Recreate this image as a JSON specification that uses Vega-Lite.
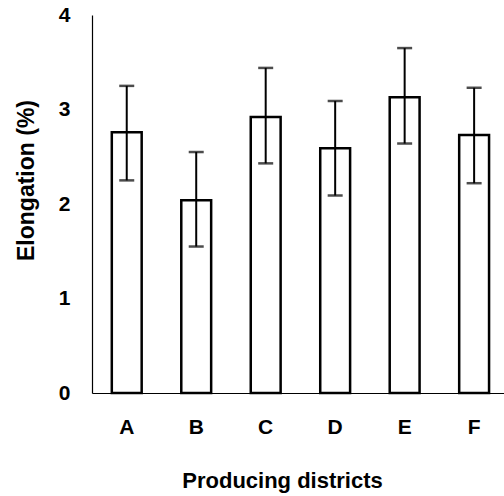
{
  "$schema": "https://vega.github.io/schema/vega-lite/v6.json",
  "width": 412,
  "height": 378,
  "autosize": {"type": "none"},
  "padding": {"left": 92, "top": 15, "right": 0, "bottom": 103},
  "background": "white",
  "config": {
    "view": {"stroke": null},
    "font": "Liberation Sans",
    "axis": {"grid": false, "domainColor": "black", "domainWidth": 1.2, "labelColor": "black", "titleColor": "black", "labelFont": "Liberation Sans", "titleFont": "Liberation Sans", "labelFontWeight": "bold", "titleFontWeight": "bold", "ticks": false},
    "axisX": {"labelAngle": 0, "labelFontSize": 21, "labelPadding": 23, "titleFontSize": 22, "titleX": 190, "titleY": 94, "titleBaseline": "alphabetic", "titleAnchor": null, "titleAlign": "center"}
  },
  "data": {
    "values": [
      {"district": "A", "elongation": 2.76, "lo": 2.25, "hi": 3.25},
      {"district": "B", "elongation": 2.04, "lo": 1.55, "hi": 2.55},
      {"district": "C", "elongation": 2.92, "lo": 2.43, "hi": 3.44},
      {"district": "D", "elongation": 2.59, "lo": 2.09, "hi": 3.09},
      {"district": "E", "elongation": 3.13, "lo": 2.64, "hi": 3.65},
      {"district": "F", "elongation": 2.73, "lo": 2.22, "hi": 3.23}
    ]
  },
  "encoding": {
    "x": {
      "field": "district", "type": "nominal",
      "scale": {"paddingInner": 0.57, "paddingOuter": 0.25, "align": 0.57},
      "axis": {"title": "Producing districts"}
    }
  },
  "layer": [
    {
      "mark": {"type": "bar", "fill": "white", "stroke": "black", "strokeWidth": 2.5},
      "encoding": {
        "y": {
          "field": "elongation", "type": "quantitative",
          "scale": {"domain": [0, 4], "nice": false},
          "axis": {"title": "Elongation (%)", "values": [0, 1, 2, 3, 4], "format": "d", "labelFontSize": 21, "labelPadding": 22, "titleFontSize": 23, "titleX": -59, "titleY": 165, "titleBaseline": "alphabetic", "titleAngle": -90, "titleAlign": "center"}
        }
      }
    },
    {
      "mark": {"type": "rule", "stroke": "black", "strokeWidth": 2},
      "encoding": {
        "y": {"field": "lo", "type": "quantitative", "axis": {"title": "Elongation (%)", "values": [0, 1, 2, 3, 4], "format": "d", "labelFontSize": 21, "labelPadding": 22, "titleFontSize": 23, "titleX": -59, "titleY": 165, "titleBaseline": "alphabetic", "titleAngle": -90, "titleAlign": "center"}},
        "y2": {"field": "hi"}
      }
    },
    {
      "mark": {"type": "tick", "color": "black", "size": 15, "thickness": 2.5},
      "encoding": {"y": {"field": "lo", "type": "quantitative", "axis": {"title": "Elongation (%)", "values": [0, 1, 2, 3, 4], "format": "d", "labelFontSize": 21, "labelPadding": 22, "titleFontSize": 23, "titleX": -59, "titleY": 165, "titleBaseline": "alphabetic", "titleAngle": -90, "titleAlign": "center"}}}
    },
    {
      "mark": {"type": "tick", "color": "black", "size": 15, "thickness": 2.5},
      "encoding": {"y": {"field": "hi", "type": "quantitative", "axis": {"title": "Elongation (%)", "values": [0, 1, 2, 3, 4], "format": "d", "labelFontSize": 21, "labelPadding": 22, "titleFontSize": 23, "titleX": -59, "titleY": 165, "titleBaseline": "alphabetic", "titleAngle": -90, "titleAlign": "center"}}}
    }
  ]
}
